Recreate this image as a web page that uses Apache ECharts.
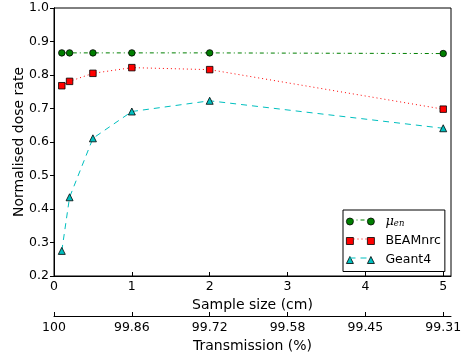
<!DOCTYPE html>
<html>
<head>
<meta charset="utf-8">
<script src="https://cdn.jsdelivr.net/npm/echarts@6/dist/echarts.min.js"></script>
<style>html,body{margin:0;padding:0;background:#fff}#c{width:462px;height:358px}</style>
</head>
<body>
<div id="c"></div>
<script>
var sampleSize = [0.1, 0.2, 0.5, 1, 2, 5];
var muEn = [0.866, 0.866, 0.866, 0.866, 0.866, 0.864];
var beamnrc = [0.768, 0.781, 0.805, 0.822, 0.816, 0.698];
var geant4 = [0.275, 0.435, 0.611, 0.691, 0.723, 0.641];
var xTicks = [0, 1, 2, 3, 4, 5];
var transmissionLabels = ['100', '99.86', '99.72', '99.58', '99.45', '99.31'];
var seriesNames = ['mu_en', 'BEAMnrc', 'Geant4'];

var FONT = 'DejaVu Sans';
var FS = 12.5;
var NFS = 14;
function pairs(ys) { return sampleSize.map(function (x, i) { return [x, ys[i]]; }); }

var circ = 'path://M0,3.5a3.5,3.5 0 1,0 7,0a3.5,3.5 0 1,0 -7,0Z M21,3.5a3.5,3.5 0 1,0 7,0a3.5,3.5 0 1,0 -7,0Z';
var sq = 'path://M0,0L7,0L7,7L0,7Z M21,0L28,0L28,7L21,7Z';
var tri = 'path://M3.5,0L7,7L0,7Z M24.5,0L28,7L21,7Z';

var colors = ['#007f00', '#ff0000', '#00bfbf'];
var dashes = [[4, 3, 1, 3], [1, 3], [6, 5]];

var chart = echarts.init(document.getElementById('c'), null, {renderer: 'canvas'});
var nameStyle = {fontFamily: FONT, fontSize: NFS, color: '#000'};

// legend row geometry (decoration only)
var LEG_LEFT = 343, LEG_TOP = 210, LEG_PAD = [5, 4, 5, 3], ITEM_W = 28, ITEM_H = 7, ROW = 19;
var legendLines = [0, 1, 2].map(function (i) {
  var y = LEG_TOP + LEG_PAD[0] + 6.5 + i * ROW - 1.5;
  var x0 = LEG_LEFT + LEG_PAD[3] + 3.5;
  return {
    type: 'line', z: 100,
    shape: {x1: x0, y1: y, x2: x0 + 21, y2: y},
    style: {stroke: colors[i], lineWidth: 1, lineDash: dashes[i]}
  };
});

chart.setOption({
  animation: false,
  backgroundColor: '#fff',
  grid: {left: 54, right: 11, top: 8, bottom: 82, show: true, borderColor: '#000', borderWidth: 1,
    backgroundColor: 'transparent', containLabel: false, outerBoundsMode: 'none'},
  xAxis: [
    {
      type: 'value', min: 0, max: 5.1, position: 'bottom',
      name: 'Sample size (cm)', nameLocation: 'middle', nameGap: 20,
      nameTextStyle: nameStyle,
      axisLine: {show: true, lineStyle: {color: '#000', width: 1}},
      axisTick: {show: true, inside: true, length: 4, customValues: xTicks, lineStyle: {color: '#000'}},
      axisLabel: {show: true, margin: 4, customValues: xTicks, fontFamily: FONT, fontSize: FS, color: '#000',
        formatter: function (v) { return String(v); }},
      splitLine: {show: false}
    },
    {
      type: 'value', min: 0, max: 5.1, position: 'bottom', offset: 40,
      name: 'Transmission (%)', nameLocation: 'middle', nameGap: 19,
      nameTextStyle: nameStyle,
      axisLine: {show: true, onZero: false, lineStyle: {color: '#000', width: 1}},
      axisTick: {show: true, inside: true, length: 4, customValues: xTicks, lineStyle: {color: '#000'}},
      axisLabel: {show: true, margin: 5, customValues: xTicks, fontFamily: FONT, fontSize: FS, color: '#000',
        formatter: function (v) { var i = xTicks.indexOf(Math.round(v)); return i >= 0 ? transmissionLabels[i] : ''; }},
      splitLine: {show: false}
    }
  ],
  yAxis: [
    {
      type: 'value', min: 0.2, max: 1.0, interval: 0.1, position: 'left',
      name: 'Normalised dose rate', nameLocation: 'middle', nameGap: 28, nameMoveOverlap: false,
      nameTextStyle: nameStyle,
      axisLine: {show: true, lineStyle: {color: '#000', width: 1}},
      axisTick: {show: true, inside: false, length: 4, lineStyle: {color: '#000'}},
      axisLabel: {show: true, margin: 5, fontFamily: FONT, fontSize: FS, color: '#000',
        formatter: function (v) { return v.toFixed(1); }},
      splitLine: {show: false}
    },
    {
      type: 'value', min: 0.2, max: 1.0, interval: 0.1, position: 'right',
      axisLine: {show: true, lineStyle: {color: '#000', width: 1}},
      axisTick: {show: true, inside: true, length: 4, lineStyle: {color: '#000'}},
      axisLabel: {show: false},
      splitLine: {show: false}
    }
  ],
  legend: {
    orient: 'vertical', left: LEG_LEFT, top: LEG_TOP,
    padding: LEG_PAD, itemGap: ROW - 13, itemWidth: ITEM_W, itemHeight: ITEM_H,
    backgroundColor: '#fff', borderColor: '#000', borderWidth: 1, borderRadius: 0,
    itemStyle: {borderColor: '#000', borderWidth: 0.8},
    textStyle: {fontFamily: FONT, fontSize: FS, color: '#000', lineHeight: 13, padding: [0, 0, 0, 6],
      rich: {
        m: {fontFamily: 'DejaVu Serif', fontSize: 13, fontStyle: 'italic', color: '#000', lineHeight: 13},
        s: {fontFamily: 'DejaVu Serif', fontSize: 8.5, fontStyle: 'italic', color: '#000', padding: [5, 0, 0, 0]}
      }},
    formatter: function (n) { return n === 'mu_en' ? '{m|\u03bc}{s|en}' : n; },
    data: [
      {name: seriesNames[0], icon: circ},
      {name: seriesNames[1], icon: sq},
      {name: seriesNames[2], icon: tri}
    ]
  },
  graphic: legendLines,
  series: [
    {
      name: seriesNames[0], type: 'line', data: pairs(muEn),
      symbol: 'circle', symbolSize: 6.5,
      itemStyle: {color: colors[0], borderColor: '#000', borderWidth: 0.8},
      lineStyle: {color: colors[0], width: 1, type: dashes[0]}
    },
    {
      name: seriesNames[1], type: 'line', data: pairs(beamnrc),
      symbol: 'rect', symbolSize: 6.5,
      itemStyle: {color: colors[1], borderColor: '#000', borderWidth: 0.8},
      lineStyle: {color: colors[1], width: 1, type: dashes[1]}
    },
    {
      name: seriesNames[2], type: 'line', data: pairs(geant4),
      symbol: 'triangle', symbolSize: 7,
      itemStyle: {color: colors[2], borderColor: '#000', borderWidth: 0.8},
      lineStyle: {color: colors[2], width: 1, type: dashes[2]}
    }
  ]
});
</script>
</body>
</html>
